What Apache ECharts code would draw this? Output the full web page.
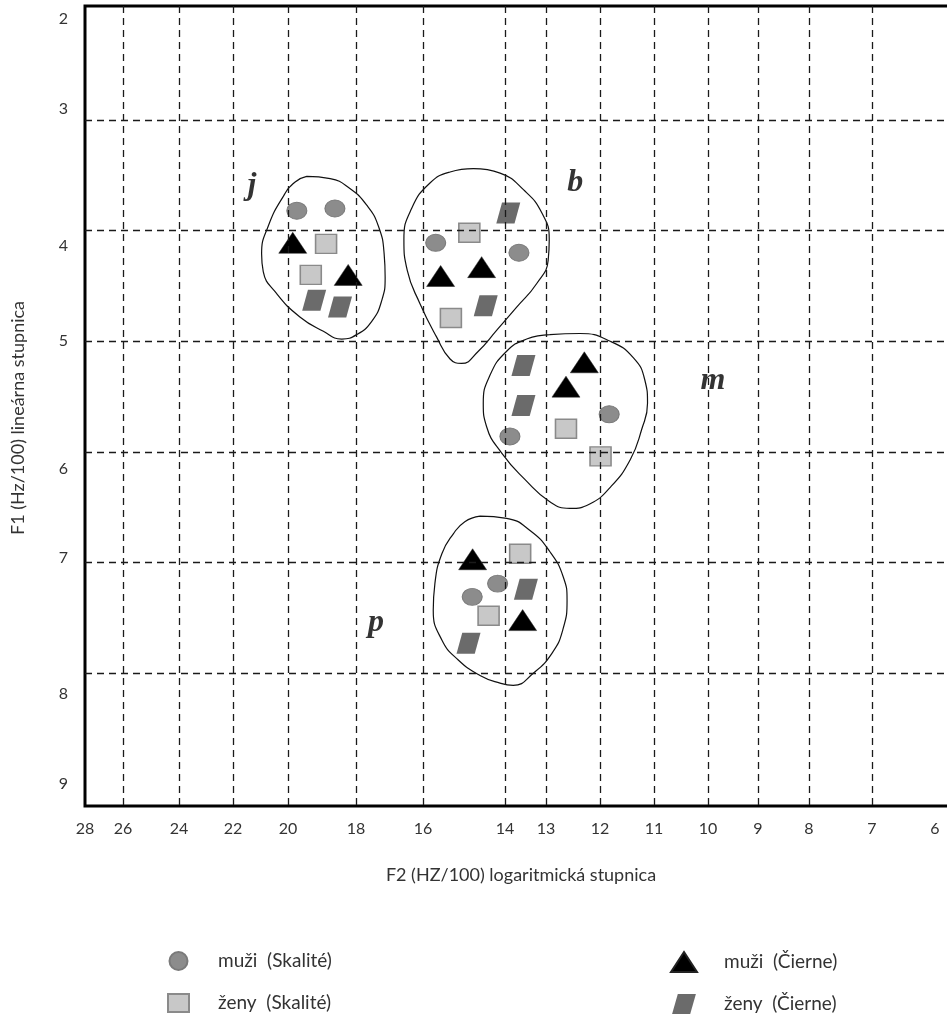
<!DOCTYPE html>
<html><head><meta charset="utf-8">
<script src="https://cdn.jsdelivr.net/npm/echarts@6/dist/echarts.min.js"></script>
<style>html,body{margin:0;padding:0;background:#fff}#c{width:947px;height:1016px}</style>
</head><body><div id="c"></div>
<script>
// ---- F2 axis (hand-drawn, non-uniform): printed tick values and their distance along the axis
const F2_TICKS = [28,26,24,22,20,18,16,14,13,12,11,10,9,8,7,6];
const F2_TICK_POS = [0,38,94,148,203,271,338,420,461,515,569,623,673,724,787,850];
const F2_AXIS_END = 872;
const F2_GRID = [26,24,22,20,18,16,14,13,12,11,10,9,8,7];
// ---- F1 axis
const F1_TICKS = [2,3,4,5,6,7,8,9];
const F1_GRID = [3,4,5,6,7,8];

// ---- data: [F2, F1]
const muziSkalite = [[19.74,3.82],[18.62,3.80],[15.69,4.11],[13.66,4.20],[11.83,5.66],[13.88,5.86],[14.18,7.19],[14.80,7.31]];
const zenySkalite = [[18.88,4.12],[19.33,4.40],[14.87,4.02],[15.32,4.79],[12.63,5.79],[11.99,6.04],[13.63,6.92],[14.40,7.48]];
const muziCierne  = [[19.86,4.11],[18.23,4.40],[15.57,4.41],[14.57,4.33],[12.29,5.19],[12.63,5.41],[14.79,6.97],[13.57,7.52]];
const zenyCierne  = [[19.23,4.63],[18.47,4.69],[13.92,3.84],[14.47,4.68],[13.55,5.22],[13.55,5.58],[13.49,7.24],[14.89,7.73]];

// ---- vowel region outlines [F2, F1]
const outlineJ = [[19.45,3.51],[18.76,3.53],[18.18,3.62],[17.68,3.77],[17.33,3.96],[17.16,4.21],[17.13,4.42],[17.23,4.63],[17.53,4.82],[17.98,4.94],[18.42,4.98],[18.96,4.91],[19.65,4.78],[20.41,4.57],[20.90,4.37],[20.96,4.21],[20.72,3.96],[20.17,3.69],[19.79,3.56]];
const outlineB = [[14.77,3.44],[14.12,3.48],[13.55,3.63],[13.10,3.84],[12.94,4.08],[12.96,4.27],[13.23,4.48],[13.71,4.69],[14.20,4.90],[14.65,5.09],[15.06,5.20],[15.34,5.16],[15.67,4.96],[16.09,4.66],[16.47,4.36],[16.57,4.08],[16.34,3.80],[15.83,3.57],[15.34,3.47]];
const outlineM = [[12.93,4.94],[12.37,4.93],[11.81,5.00],[11.38,5.15],[11.17,5.35],[11.12,5.56],[11.23,5.80],[11.44,6.07],[11.81,6.32],[12.19,6.47],[12.56,6.51],[12.93,6.45],[13.51,6.25],[14.08,6.01],[14.45,5.77],[14.53,5.56],[14.37,5.31],[13.96,5.09],[13.47,4.98]];
const outlineP = [[14.61,6.58],[13.96,6.60],[13.39,6.71],[12.93,6.90],[12.68,7.13],[12.61,7.34],[12.69,7.61],[12.89,7.82],[13.31,8.00],[13.80,8.11],[14.12,8.09],[14.61,8.02],[15.14,7.88],[15.54,7.70],[15.75,7.43],[15.71,7.19],[15.54,6.92],[15.26,6.74],[14.98,6.63]];

// ---- region letters [label, F2, F1]
const regionLabels = [['j',21.31,3.59],['b',12.46,3.57],['m',9.90,5.36],['p',17.40,7.54]];

const SERIES_NAMES = ['muži  (Skalité)','ženy  (Skalité)','muži  (Čierne)','ženy  (Čierne)'];
// y label nudges (as printed on the original)
const F1_LABEL_NUDGE = {2:10,3:-11,4:15,5:0,6:17,7:-5,8:21,9:0};

// piecewise-linear F2 scale
function f2ToPos(f){
  const n = F2_TICKS.length;
  for(let i=0;i<n-1;i++){
    const a=F2_TICKS[i], b=F2_TICKS[i+1];
    if(f<=a && f>=b){ return F2_TICK_POS[i] + (a-f)/(a-b)*(F2_TICK_POS[i+1]-F2_TICK_POS[i]); }
  }
  if(f>F2_TICKS[0]) return F2_TICK_POS[0] - (f-F2_TICKS[0])/(F2_TICKS[0]-F2_TICKS[1])*(F2_TICK_POS[1]-F2_TICK_POS[0]);
  const a=F2_TICKS[n-2], b=F2_TICKS[n-1];
  return F2_TICK_POS[n-1] + (b-f)/(a-b)*(F2_TICK_POS[n-1]-F2_TICK_POS[n-2]);
}
const conv = arr => arr.map(([f2,f1]) => [f2ToPos(f2), f1]);
const closeLoop = arr => { const c = conv(arr); c.push(c[0]); return c; };

const ELLIPSE = 'path://M0,1 C0,0.448 0.448,0 1,0 C1.552,0 2,0.448 2,1 C2,1.552 1.552,2 1,2 C0.448,2 0,1.552 0,1 Z';
const PARA = 'path://M6,0 L25,0 L19,21 L0,21 Z';
const FONT = 'Lato';

const rich = {};
Object.keys(F1_LABEL_NUDGE).forEach(k=>{
  const d = F1_LABEL_NUDGE[k];
  rich['n'+k] = {fontSize:16, fontFamily:FONT, color:'#333', padding: d>=0 ? [2*d,0,0,0] : [0,0,-2*d,0]};
});

const gridStyle = {type:[7,5], color:'#1a1a1a', width:1.3};

const outlineSeries = [outlineJ,outlineB,outlineM,outlineP].map((o,i)=>({
  type:'line', name:'outline'+i, data: closeLoop(o), smooth:0.5, symbol:'none',
  lineStyle:{color:'#111', width:1.2}, silent:true, z:1, animation:false
}));

const legendText = pad => ({fontSize:19, fontFamily:FONT, color:'#333', lineHeight:20, padding:[0,0,0,pad]});

const option = {
  backgroundColor:'#fff',
  animation:false,
  grid:{left:85, right:-10, top:6, bottom:210, outerBoundsMode:'none', containLabel:false,
        show:true, borderColor:'#000', borderWidth:3, backgroundColor:'transparent'},
  xAxis:{
    type:'value', min:0, max:F2_AXIS_END,
    axisLine:{show:false}, axisTick:{show:false}, splitLine:{show:false},
    axisLabel:{
      customValues: F2_TICKS.map(f2ToPos),
      formatter: v => { const i = F2_TICK_POS.findIndex(p=>Math.abs(p-v)<0.5); return i>=0 ? String(F2_TICKS[i]) : ''; },
      fontSize:16, fontFamily:FONT, color:'#333', margin:15
    },
    name:'F2 (HZ/100) logaritmická stupnica', nameLocation:'middle', nameGap:60,
    nameTextStyle:{fontSize:18, fontFamily:FONT, color:'#333'}
  },
  yAxis:{
    type:'value', inverse:true, min:1.97, max:9.2,
    axisLine:{show:false}, axisTick:{show:false}, splitLine:{show:false},
    axisLabel:{
      customValues: F1_TICKS,
      formatter: v => '{n'+v+'|'+v+'}',
      rich: rich, margin:17, fontSize:16, fontFamily:FONT, color:'#333'
    },
    name:'F1 (Hz/100) lineárna stupnica', nameLocation:'middle', nameGap:58,
    nameTextStyle:{fontSize:18, fontFamily:FONT, color:'#333', padding:[0,24,0,0]}
  },
  legend:[
    {data:[SERIES_NAMES[0],SERIES_NAMES[1]], orient:'vertical', left:167, top:951, bottom:0, padding:0,
     itemWidth:21, itemHeight:18, itemGap:22, textStyle:legendText(24), selectedMode:false},
    {data:[SERIES_NAMES[2],SERIES_NAMES[3]], orient:'vertical', left:670, top:951, bottom:0, padding:0,
     itemWidth:26, itemHeight:20, itemGap:21, textStyle:legendText(22), selectedMode:false}
  ],
  series:[
    {type:'line', name:'grid', data:[], silent:true, z:0,
     markLine:{silent:true, symbol:['none','none'], label:{show:false}, lineStyle:gridStyle, animation:false,
       data: F2_GRID.map(f=>({xAxis:f2ToPos(f)})).concat(F1_GRID.map(v=>({yAxis:v})))}},
    ...outlineSeries,
    {type:'scatter', name:SERIES_NAMES[0], data:conv(muziSkalite), symbol:ELLIPSE, symbolSize:[20,17],
     itemStyle:{color:'#8c8c8c', borderColor:'#7a7a7a', borderWidth:1, opacity:1}, z:3},
    {type:'scatter', name:SERIES_NAMES[1], data:conv(zenySkalite), symbol:'rect', symbolSize:[21,19],
     itemStyle:{color:'#c8c8c8', borderColor:'#8a8a8a', borderWidth:1.5, opacity:1}, z:3},
    {type:'scatter', name:SERIES_NAMES[2], data:conv(muziCierne), symbol:'triangle', symbolSize:[28,21],
     itemStyle:{color:'#000', borderColor:'#222', borderWidth:0.5, opacity:1}, z:3},
    {type:'scatter', name:SERIES_NAMES[3], data:conv(zenyCierne), symbol:PARA, symbolSize:[24,21],
     itemStyle:{color:'#6b6b6b', opacity:1}, z:3},
    {type:'scatter', name:'letters', data: regionLabels.map(([t,f2,f1])=>({name:t, value:[f2ToPos(f2), f1]})),
     symbolSize:1, itemStyle:{color:'rgba(0,0,0,0)'}, silent:true, z:4,
     label:{show:true, position:'inside', formatter:'{b}', fontFamily:'Liberation Serif', fontStyle:'italic', fontWeight:'bold', fontSize:32, color:'#000'}}
  ]
};
const chart = echarts.init(document.getElementById('c'), null, {renderer:'canvas'});
chart.setOption(option);
</script>
</body></html>
